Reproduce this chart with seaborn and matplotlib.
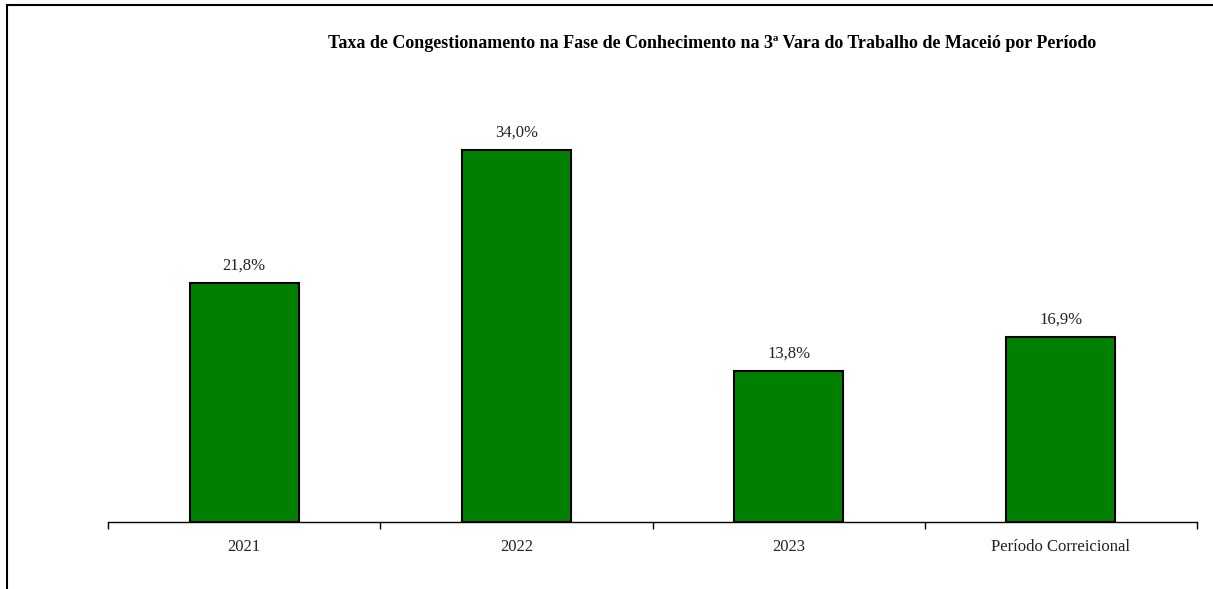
import numpy as np
import pandas as pd
import matplotlib
matplotlib.use("Agg")
import matplotlib.pyplot as plt
from matplotlib.patches import Rectangle
import seaborn as sns

periodos = ['2021', '2022', '2023', 'Período Correicional']
taxas = [21.8, 34.0, 13.8, 16.9]

df = pd.DataFrame({'Periodo': periodos, 'Taxa': taxas})

sns.set_style('white')
plt.rcParams['font.family'] = ['Liberation Serif', 'DejaVu Serif']

fig = plt.figure(figsize=(12.13, 5.89), dpi=100)
ax = fig.add_axes([108 / 1213, 1 - 522 / 589, (1197 - 108) / 1213, (522 - 80) / 589])

sns.barplot(data=df, x='Periodo', y='Taxa', color='#008000', saturation=1,
            width=0.4, edgecolor='black', linewidth=1.5, ax=ax)

ax.set_xlim(-0.5, 3.5)
ax.set_ylim(0, 34.0 * 442 / 372)
ax.set_xlabel('')
ax.set_ylabel('')
ax.set_yticks([])
for s in ['top', 'right', 'left']:
    ax.spines[s].set_visible(False)
ax.spines['bottom'].set_color('black')
ax.spines['bottom'].set_linewidth(1.0)

ax.set_xticks(range(len(periodos)))
ax.set_xticklabels(periodos, fontsize=12, color='#222222')
ax.tick_params(axis='x', which='major', length=0, pad=12)
ax.set_xticks(np.arange(-0.5, 4.0, 1.0), minor=True)
ax.tick_params(axis='x', which='minor', length=5, width=1, color='black', direction='out', bottom=True)

for i, v in enumerate(taxas):
    ax.text(i, v + 0.9, f'{v:.1f}%'.replace('.', ','), ha='center', va='bottom',
            fontsize=12, color='#222222')

fig.text(712 / 1213, 1 - 43 / 589,
         'Taxa de Congestionamento na Fase de Conhecimento na 3ª Vara do Trabalho de Maceió por Período',
         ha='center', va='center', fontsize=13, fontweight='bold', color='black')

fig.patches.append(Rectangle((6.5 / 1213, -0.2), 1.2, 1.2 - 5.5 / 589,
                             transform=fig.transFigure, fill=False,
                             edgecolor='black', linewidth=1.5))

fig.savefig('out.png', dpi=100)
